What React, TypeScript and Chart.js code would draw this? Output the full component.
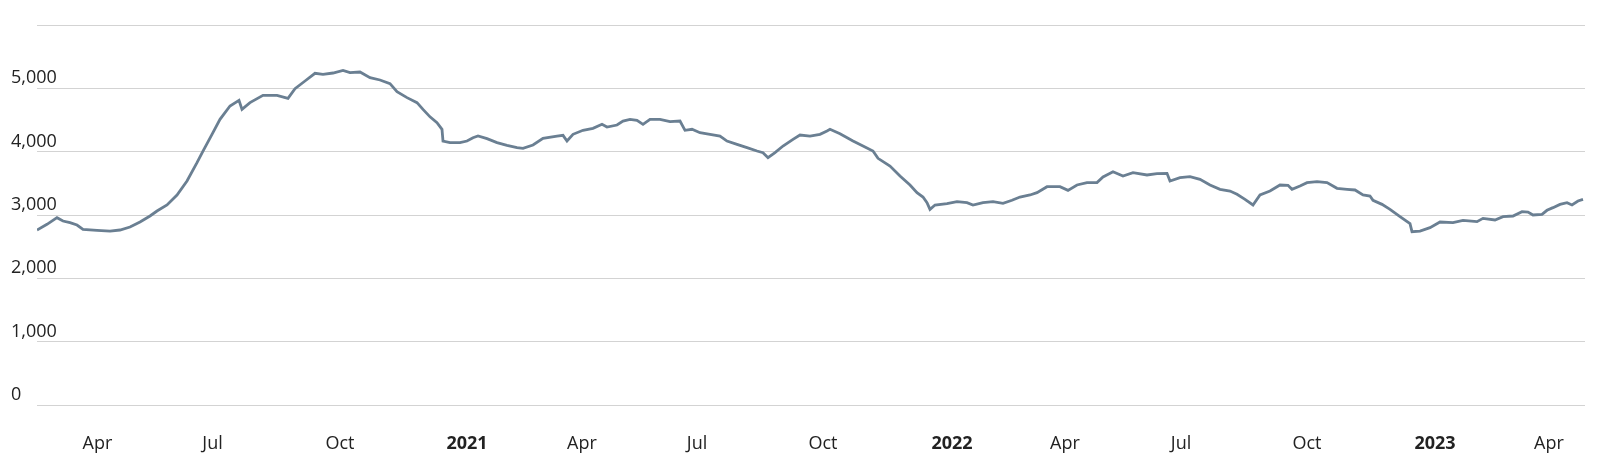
import React, { useEffect, useRef } from 'react';
import { Chart, registerables } from 'chart.js';

Chart.register(...registerables);

// Position along the (ordinal) time axis, in sample-index units
const xPos = [
  0, 10, 20, 26, 33, 40, 46, 60, 73, 83, 93, 103, 113, 120, 130, 140, 150, 160, 166, 175,
  183, 193, 202, 205, 213, 226, 240, 251, 258, 268, 278, 286, 296, 306, 313, 323, 333, 343, 353, 360,
  370, 380, 386, 393, 400, 405, 406, 413, 423, 430, 436, 441, 450, 460, 470, 480, 486, 496, 506, 520,
  526, 530, 536, 546, 556, 565, 570, 580, 586, 593, 600, 606, 613, 623, 633, 643, 648, 655, 663, 673,
  683, 690, 700, 710, 720, 726, 731, 738, 746, 756, 763, 773, 783, 790, 793, 803, 816, 826, 836, 841,
  853, 863, 873, 880, 886, 890, 893, 898, 910, 920, 930, 936, 946, 956, 966, 975, 983, 993, 1000, 1010,
  1023, 1031, 1040, 1050, 1060, 1066, 1076, 1086, 1096, 1110, 1120, 1130, 1133, 1143, 1153, 1163, 1173, 1183, 1193, 1200,
  1208, 1216, 1223, 1233, 1243, 1251, 1255, 1263, 1270, 1280, 1290, 1300, 1310, 1318, 1326, 1333, 1336, 1345, 1353, 1363,
  1373, 1375, 1383, 1393, 1403, 1416, 1426, 1440, 1446, 1458, 1466, 1476, 1485, 1491, 1496, 1505, 1510, 1516, 1523, 1530,
  1535, 1541, 1546,
];

const values = [
  2763, 2853, 2958, 2905, 2880, 2842, 2774, 2758, 2747, 2763, 2810, 2889, 2984, 3063, 3158, 3316, 3537, 3826, 4010, 4274,
  4510, 4721, 4810, 4668, 4774, 4889, 4889, 4842, 4995, 5116, 5237, 5221, 5242, 5284, 5247, 5258, 5168, 5132, 5074, 4947,
  4853, 4774, 4668, 4550, 4458, 4353, 4168, 4142, 4142, 4168, 4221, 4247, 4205, 4142, 4100, 4063, 4053, 4105, 4210, 4247,
  4258, 4168, 4274, 4337, 4368, 4432, 4389, 4421, 4484, 4510, 4495, 4432, 4510, 4510, 4474, 4484, 4337, 4353, 4300, 4274,
  4247, 4168, 4116, 4063, 4010, 3984, 3905, 3984, 4089, 4195, 4263, 4247, 4274, 4326, 4353, 4284, 4168, 4089, 4010, 3895,
  3774, 3616, 3474, 3353, 3284, 3195, 3089, 3158, 3179, 3211, 3195, 3158, 3195, 3211, 3184, 3232, 3284, 3316, 3353, 3447,
  3447, 3389, 3474, 3511, 3511, 3600, 3684, 3616, 3668, 3632, 3653, 3658, 3537, 3589, 3605, 3563, 3474, 3405, 3379, 3326,
  3247, 3158, 3316, 3379, 3474, 3468, 3405, 3458, 3511, 3526, 3511, 3421, 3405, 3395, 3316, 3300, 3232, 3168, 3089, 2974,
  2863, 2737, 2747, 2800, 2889, 2879, 2916, 2895, 2947, 2921, 2974, 2984, 3053, 3047, 3000, 3010, 3074, 3116, 3168, 3195,
  3158, 3221, 3247,
];

const tickPos = [60.5, 175.5, 303, 430, 545, 660, 786, 915, 1028, 1144, 1270, 1398, 1512];
const tickLabels = ['Apr', 'Jul', 'Oct', '2021', 'Apr', 'Jul', 'Oct', '2022', 'Apr', 'Jul', 'Oct', '2023', 'Apr'];
const yTicks = [0, 1000, 2000, 3000, 4000, 5000, 6000];
const xMax = 1548;

const FONT = "'Open Sans', sans-serif";

function labelFor(v: number): string {
  const i = tickPos.indexOf(v);
  return i >= 0 ? tickLabels[i] : '';
}

export default function App() {
  const ref = useRef<HTMLCanvasElement>(null);

  useEffect(() => {
    if (!ref.current) return;
    const chart = new Chart(ref.current, {
      type: 'line',
      data: {
        datasets: [
          {
            data: xPos.map((x, i) => ({ x, y: values[i] })),
            borderColor: '#6a7f92',
            borderWidth: 2.8,
            pointRadius: 0,
            tension: 0,
            fill: false,
          },
        ],
      },
      options: {
        animation: false,
        responsive: false,
        maintainAspectRatio: false,
        plugins: { legend: { display: false }, tooltip: { enabled: false } },
        layout: { padding: { left: 0, right: 15, top: 25, bottom: 0 } },
        scales: {
          x: {
            type: 'linear',
            min: 0,
            max: xMax,
            grid: { display: false },
            border: { display: false },
            afterBuildTicks: (s: any) => {
              s.ticks = tickPos.map((v) => ({ value: v }));
            },
            afterFit: (s: any) => {
              s.height = 54;
            },
            ticks: {
              autoSkip: false,
              maxRotation: 0,
              minRotation: 0,
              padding: 20,
              color: '#222222',
              callback: (v: any) => labelFor(Number(v)),
              font: (ctx: any) => {
                const lab = labelFor(ctx.tick ? ctx.tick.value : -1);
                return { family: FONT, size: 18, weight: /^\d{4}$/.test(lab) ? 'bold' : 'normal' };
              },
            },
          },
          y: {
            min: 0,
            max: 6000,
            afterBuildTicks: (s: any) => {
              s.ticks = yTicks.map((v) => ({ value: v }));
            },
            afterFit: (s: any) => {
              s.width = 37;
            },
            grid: { color: '#d3d3d3', lineWidth: 1, drawTicks: false },
            border: { display: false },
            ticks: {
              mirror: true,
              crossAlign: 'near',
              labelOffset: -10,
              padding: -26,
              color: '#222222',
              font: { family: FONT, size: 18 },
              callback: (v: any) => (Number(v) === 6000 ? '' : Number(v).toLocaleString('en-US')),
            },
          },
        },
      },
    } as any);
    return () => chart.destroy();
  }, []);

  return (
    <div style={{ position: 'absolute', left: 0, top: 0, width: 1600, height: 459, background: '#ffffff' }}>
      <canvas ref={ref} width={1600} height={459} style={{ display: 'block', width: 1600, height: 459 }} />
    </div>
  );
}
